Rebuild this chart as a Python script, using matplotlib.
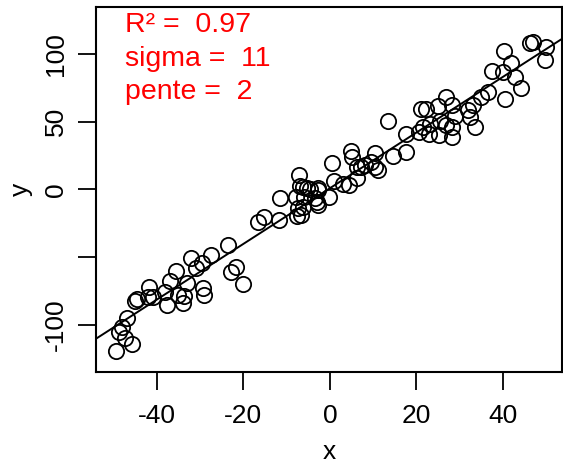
import numpy as np
import matplotlib
matplotlib.use('Agg')
import matplotlib.pyplot as plt

plt.rcParams['font.family'] = ['Liberation Sans', 'DejaVu Sans']
plt.rcParams['axes.unicode_minus'] = False

# points
x = [-49.4, -45.7, -47.2, -48.6, -48.0, -46.9, -44.9, -44.6, -42.1, -41.8,
     -40.9, -37.7, -38.0, -36.9, -35.5, -35.1, -34.0, -33.6, -33.1, -32.1,
     -30.8, -29.5, -29.4, -29.0, -27.5, -23.6, -22.8, -21.7, -20.1, -16.7,
     -15.2, -11.8, -11.5, -7.2, -6.9, -7.8, -7.6, -6.7, -7.4, -5.2,
     -2.8, -2.8, -3.0, -0.2, 0.5, 1.0, -5.9, -6.2, -4.6, -2.7,
     -3.5, -6.2, 3.1, 4.5, 6.2, 7.3, 9.6, 10.4, 11.1, 6.2,
     8.1, 13.5, 4.8, 5.0, 10.4, 14.6, 17.5, 17.5, 21.0, 22.2,
     25.0, 26.9, 28.1, 28.8, 28.1, 26.9, 28.1, 25.4, 23.1, 21.4,
     20.6, 22.9, 25.2, 31.9, 32.3, 33.5, 33.1, 35.0, 36.5, 40.4,
     37.5, 40.0, 40.2, 41.9, 42.7, 44.2, 46.2, 46.9, 50.0, 49.6]
y = [-119.0, -114.3, -109.9, -105.0, -101.3, -95.1, -82.1, -81.0, -79.6, -72.2,
     -79.2, -85.1, -75.5, -67.6, -60.2, -77.9, -84.0, -78.4, -68.8, -50.8,
     -58.2, -54.5, -72.5, -77.9, -48.4, -41.0, -60.7, -57.0, -70.0, -23.8,
     -20.5, -22.5, -6.5, 10.7, 2.6, -5.3, -19.6, -18.8, -13.7, 0.9,
     -0.4, -11.4, -9.0, -5.3, 19.8, 6.5, -5.3, 2.1, 0.1, 0.9,
     -6.5, -12.7, 4.1, 3.3, 8.3, 16.8, 20.5, 16.8, 14.4, 16.8,
     18.1, 50.8, 28.7, 24.2, 26.7, 24.7, 27.9, 40.8, 59.5, 59.5,
     61.7, 68.5, 62.4, 54.3, 39.0, 47.6, 46.4, 50.8, 48.4, 45.9,
     42.7, 41.0, 40.3, 58.7, 53.8, 46.4, 62.4, 68.5, 72.2, 66.6,
     87.5, 87.0, 102.5, 93.2, 83.3, 74.7, 108.0, 109.2, 105.5, 95.6]

labels = ['R\u00b2 =  0.97', 'sigma =  11', 'pente =  2']

slope, intercept = np.polyfit(x, y, 1)

fig = plt.figure(figsize=(5.63, 4.67), dpi=100)
ax = fig.add_axes([96 / 563, 1 - 371.7 / 467, 466 / 563, 365 / 467])

ax.plot(x, y, 'o', mfc='none', mec='black', ms=11, mew=1.3)
ax.axline((0, intercept), slope=slope, color='black', lw=1.4)

ax.set_xlim(-54, 53.6)
ax.set_ylim(-134.6, 135)
ax.set_xticks([-40, -20, 0, 20, 40])
ax.set_yticks([-100, -50, 0, 50, 100])
ax.set_yticklabels(['-100', '', '0', '50', '100'], rotation=90, va='center')
ax.tick_params(length=13, width=1.3, labelsize=19)
ax.tick_params(axis='x', pad=10)
ax.tick_params(axis='y', pad=7)
for s in ax.spines.values():
    s.set_linewidth(1.5)

ax.set_xlabel('x', fontsize=19, labelpad=9)
ax.set_ylabel('y', fontsize=19, labelpad=8)

for i, t in enumerate(labels):
    ax.text(0.062, 0.93 - i * 0.092, t, transform=ax.transAxes,
            color='red', fontsize=20.5, va='baseline', ha='left')

fig.savefig('out.png', dpi=100)
